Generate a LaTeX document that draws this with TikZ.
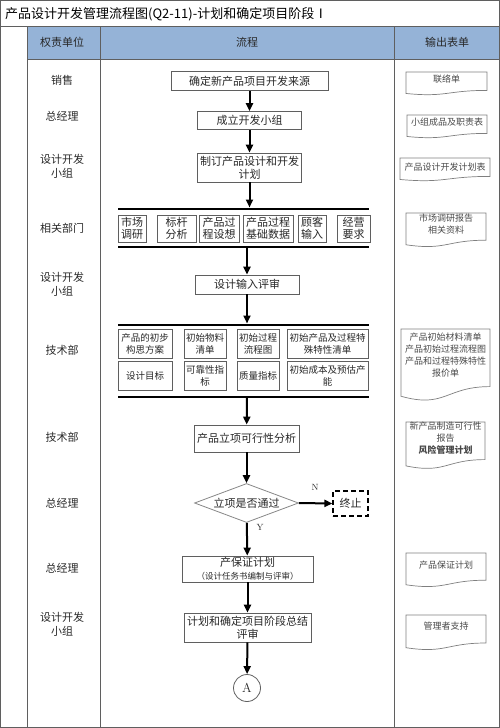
\documentclass[tikz,border=0pt]{standalone}
\usepackage{fontspec}
\newfontfamily\cjk{Noto Sans CJK SC}
\usetikzlibrary{arrows.meta,shapes.geometric}
\definecolor{headblue}{RGB}{149,179,215}
\definecolor{rule}{RGB}{95,95,95}
\definecolor{ink}{RGB}{40,40,40}
\newcommand{\fsz}[2]{\fontsize{#1}{#2}\selectfont}
% output form: name, left, top, width, height, text y, text
\newcommand{\docform}[7]{%
  \draw[docline] (#2,#3) -- ({#2+#4},#3) -- ({#2+#4},{#3+0.8*#5})
    .. controls ({#2+0.5*#4},{#3+0.8*#5}) and ({#2+0.5*#4},{#3+1.107*#5}) .. (#2,{#3+0.934*#5}) -- cycle;
  \node[doctext] (#1) at ({#2+0.5*#4},#6) {#7};}

\begin{document}
\begin{tikzpicture}[x=1pt,y=-1pt,
  frame/.style={draw=rule,line width=1pt},
  lane/.style={font=\cjk\fsz{11}{14},text=ink,align=center},
  head/.style={font=\cjk\fsz{11}{14},text=ink},
  proc/.style={draw=rule,line width=0.8pt,fill=white,font=\cjk\fsz{11}{13},text=ink,align=center,inner sep=0pt},
  item/.style={proc,font=\cjk\fsz{11}{12.5},minimum height=27pt},
  cell/.style={proc,font=\cjk\fsz{9.5}{12},minimum height=29pt},
  docline/.style={draw=rule!80,line width=0.7pt},
  doctext/.style={font=\cjk\fsz{9}{12},text=ink!85,align=center,inner sep=0pt},
  flow/.style={line width=2pt,-{Triangle[length=8pt,width=7pt]}},
  bar/.style={line width=2.5pt},
  yn/.style={font=\fsz{9}{9},text=ink}]
  \useasboundingbox (0,0) rectangle (500,728);
  % table
  \fill[headblue] (27,26) rectangle (500,59);
  \draw[frame] (0.5,0.5) rectangle (499.5,727.5);
  \draw[frame] (0.5,26) -- (499.5,26);
  \draw[frame] (27,59) -- (499.5,59);
  \draw[frame] (27,26) -- (27,727.5);
  \draw[frame] (100,26) -- (100,727.5);
  \draw[frame] (394,26) -- (394,727.5);
  \node[font=\cjk\fsz{13}{13},anchor=west,inner sep=0pt] (title) at (5,14) {产品设计开发管理流程图(Q2-11)-计划和确定项目阶段Ⅰ};
  \node[head] (h1) at (62,42) {权责单位};
  \node[head] (h2) at (247,42) {流程};
  \node[head] (h3) at (447,42) {输出表单};
  % units
  \node[lane] (u1)  at (62,80)  {销售};
  \node[lane] (u2)  at (62,116) {总经理};
  \node[lane] (u3)  at (62,166) {设计开发\\小组};
  \node[lane] (u4)  at (62,228) {相关部门};
  \node[lane] (u5)  at (62,284) {设计开发\\小组};
  \node[lane] (u6)  at (62,350) {技术部};
  \node[lane] (u7)  at (62,437) {技术部};
  \node[lane] (u8)  at (62,503) {总经理};
  \node[lane] (u9)  at (62,568) {总经理};
  \node[lane] (u10) at (62,624) {设计开发\\小组};
  % flow
  \node[proc,minimum width=157pt,minimum height=19pt] (src) at (249.5,81) {确定新产品项目开发来源};
  \node[proc,minimum width=104pt,minimum height=18pt] (team) at (249.5,120.5) {成立开发小组};
  \node[proc,minimum width=104pt,minimum height=29pt] (plan) at (249.5,167.5) {制订产品设计和开发\\计划};
  \coordinate (b1w) at (118,209);
  \coordinate (b1e) at (369,209);
  \coordinate (b1) at (249.5,207.5);
  \node[item,minimum width=28pt] (mkt)   at (132,228.5)   {市场\\调研};
  \node[item,minimum width=39pt] (bench) at (176.5,228.5) {标杆\\分析};
  \node[item,minimum width=40pt] (idea)  at (219,228.5)   {产品过\\程设想};
  \node[item,minimum width=50pt] (basic) at (268,228.5)   {产品过程\\基础数据};
  \node[item,minimum width=28pt] (cust)  at (312,228.5)   {顾客\\输入};
  \node[item,minimum width=33pt] (biz)   at (353.5,228.5) {经营\\要求};
  \coordinate (b2w) at (118,247);
  \coordinate (b2e) at (369,247);
  \coordinate (b2) at (247,247);
  \node[proc,minimum width=104pt,minimum height=19pt] (review) at (247,284.5) {设计输入评审};
  \coordinate (b3w) at (118,325);
  \coordinate (b3e) at (369,325);
  \coordinate (b3) at (247,323.5);
  \node[cell,minimum width=54pt] (c11) at (145,343.5)   {产品的初步\\构思方案};
  \node[cell,minimum width=42pt] (c12) at (205,343.5)   {初始物料\\清单};
  \node[cell,minimum width=42pt] (c13) at (258,343.5)   {初始过程\\流程图};
  \node[cell,minimum width=81pt] (c14) at (327.5,343.5) {初始产品及过程特\\殊特性清单};
  \node[cell,minimum width=54pt] (c21) at (145,375.5)   {设计目标};
  \node[cell,minimum width=42pt] (c22) at (205,375.5)   {可靠性指\\标};
  \node[cell,minimum width=42pt] (c23) at (258,375.5)   {质量指标};
  \node[cell,minimum width=81pt] (c24) at (327.5,375.5) {初始成本及预估产\\能};
  \coordinate (b4w) at (118,397);
  \coordinate (b4e) at (369,397);
  \coordinate (b4) at (247,397);
  \node[proc,minimum width=105pt,minimum height=27pt] (feas) at (246.5,438.5) {产品立项可行性分析};
  \node[proc,diamond,aspect=2.7,draw=rule!75,minimum width=104pt,minimum height=39pt] (dia) at (246.5,503) {立项是否通过};
  \node[proc,draw=black,line width=1.2pt,dash pattern=on 5pt off 3pt,minimum width=35pt,minimum height=25pt] (stop) at (350.5,503.5) {终止};
  \node[yn] (no) at (315,487) {N};
  \node[yn] (yes) at (260,527) {Y};
  \node[proc,minimum width=131pt,minimum height=26pt] (guar) at (247.5,569) {产保证计划\\{\fsz{8.5}{10}（设计任务书编制与评审）}};
  \node[proc,minimum width=127pt,minimum height=29pt] (summ) at (247.5,627.5) {计划和确定项目阶段总结\\评审};
  \node[circle,draw=rule,line width=0.8pt,minimum size=27pt,inner sep=0pt,font=\fsz{13}{13},text=ink] (endA) at (247,688) {A};
  % connectors
  \draw[bar] (b1w) -- (b1e);
  \draw[bar] (b2w) -- (b2e);
  \draw[bar] (b3w) -- (b3e);
  \draw[bar] (b4w) -- (b4e);
  \draw[flow] (src) -- (team);
  \draw[flow] (team) -- (plan);
  \draw[flow] (plan) -- (b1);
  \draw[flow] (b2) -- (review);
  \draw[flow] (review) -- (b3);
  \draw[flow] (b4) -- (feas);
  \draw[flow] (feas) -- (dia);
  \draw[flow] (dia.east) -- (stop.west);
  \draw[flow] (dia) -- (guar);
  \draw[flow] (guar) -- (summ);
  \draw[flow] (summ) -- (endA);
  % output forms
  \docform{f1}{406}{72}{81}{23}{79}{联络单}
  \docform{f2}{407}{115}{80}{23}{122}{小组成品及职责表}
  \docform{f3}{400}{158}{90}{23}{167}{产品设计开发计划表}
  \docform{f4}{406}{213}{80}{34}{224}{市场调研报告\\相关资料}
  \docform{f5}{401}{329}{89}{72}{355}{产品初始材料清单\\产品初始过程流程图\\产品和过程特殊特性\\报价单}
  \docform{f6}{406}{422}{79}{47}{438}{新产品制造可行性\\报告\\\textbf{风险管理计划}}
  \docform{f7}{406}{553}{80}{34}{565}{产品保证计划}
  \docform{f8}{406}{615}{80}{35}{626}{管理者支持}
\end{tikzpicture}
\end{document}
